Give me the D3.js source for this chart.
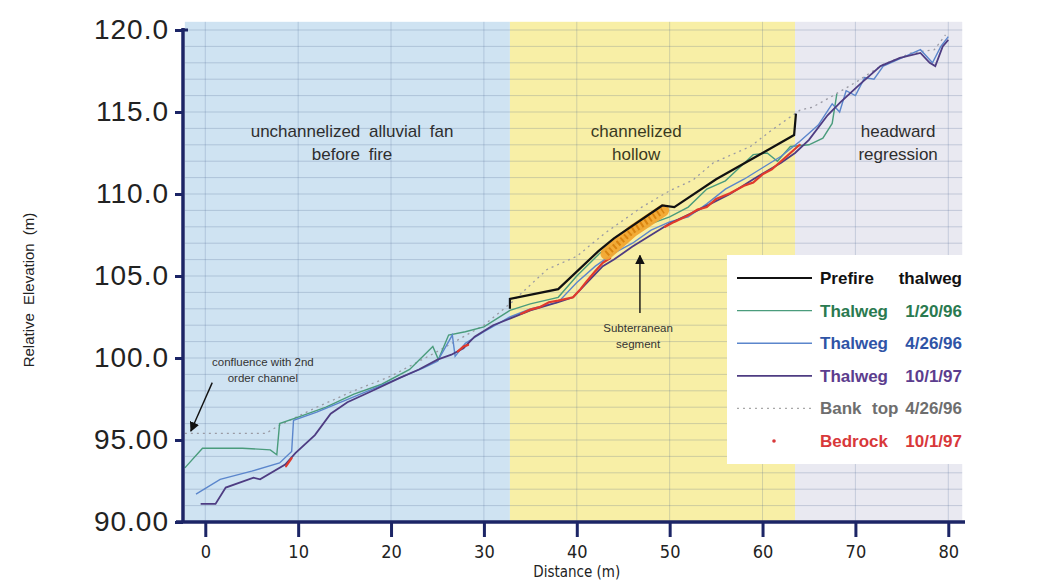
<!DOCTYPE html>
<html><head><meta charset="utf-8">
<script src="https://cdn.jsdelivr.net/npm/d3@7/dist/d3.min.js"></script>
<style>body{margin:0;background:#fff;} svg{display:block;}</style>
</head><body>
<svg id="c" width="1045" height="582"></svg>
<script>
// ---------- data ----------
const xTicks = [0,10,20,30,40,50,60,70,80];
const yTicks = [90,95,100,105,110,115,120];
const regions = [
  {name:"fan", x0:-2.2, x1:32.8, fill:"#cfe3f2"},
  {name:"hollow", x0:32.8, x1:63.5, fill:"#f8efa6"},
  {name:"headward", x0:63.5, x1:81.5, fill:"#e9e9f1"}
];
const prefire = [[32.8,103.0],[32.8,103.6],[38,104.2],[42.3,106.5],[44,107.3],[49.2,109.3],[50.5,109.2],[55,110.9],[60,112.5],[63.4,113.6],[63.6,114.9]];
const thalweg012096 = [[-2.2,93.3],[-0.3,94.5],[4,94.5],[7.0,94.4],[7.7,94.1],[8.0,96.0],[10,96.4],[13,97.0],[16,97.8],[19,98.4],[22,99.3],[24.5,100.7],[25.1,99.9],[26.2,101.4],[28,101.6],[30,101.9],[32.8,102.9],[35,103.3],[38,103.7],[40,105.0],[42.5,106.4],[44,106.9],[46,107.6],[48,108.2],[50,108.6],[52,109.2],[54,110.3],[56,110.8],[57.5,111.6],[59,112.4],[60.5,112.5],[61.6,112.0],[63,112.9],[65,113.0],[66.5,113.4],[67.5,114.3],[68.0,116.1]];
const thalweg042696 = [[-1.0,91.7],[1.6,92.6],[5,93.1],[8,93.6],[9.3,94.3],[9.5,96.2],[12,96.7],[15,97.4],[18,98.1],[21,98.8],[23.5,99.4],[25,99.8],[26.6,101.4],[26.9,100.1],[28,100.9],[30,101.6],[32.8,102.5],[35,103.0],[38,103.4],[40,104.6],[42,105.6],[44,106.4],[46,107.0],[48,107.8],[50,108.3],[52,108.6],[54,109.4],[56,110.3],[58,110.9],[60,111.6],[62,112.3],[64,113.2],[66,114.2],[67.5,115.5],[68.3,115.0],[69,116.3],[70,116.0],[71,117.1],[72,117.0],[73,117.8],[75,118.3],[77,118.8],[78.3,118.0],[79.2,119.0],[80,119.6]];
const thalweg100197 = [[-0.5,91.1],[1.1,91.1],[2.2,92.1],[5.2,92.7],[5.9,92.6],[8.6,93.5],[9.7,94.2],[11.8,95.3],[13.5,96.6],[15.3,97.3],[18,98.0],[21,98.8],[23,99.3],[25,99.9],[26.5,100.2],[27.8,100.6],[29,101.3],[31,102.0],[32.8,102.4],[35,102.9],[38,103.4],[39.6,103.7],[41.1,104.6],[42.8,105.6],[44,106.0],[46,106.8],[48,107.5],[50,108.2],[53,109.0],[56.5,110.0],[59,110.9],[62,111.9],[63.5,112.5],[65,113.3],[67,114.8],[68.4,115.6],[70.5,116.7],[72.7,117.8],[74.8,118.3],[77,118.6],[78,118.0],[78.6,117.8],[79.4,119.0],[80,119.4]];
const bankTop042696 = [[-2.2,95.4],[6.5,95.4],[8,95.9],[12,97.0],[16,98.0],[20,98.9],[25,100.4],[30,102.0],[33,103.4],[36.8,105.4],[40,106.2],[43,107.6],[47,109.2],[50,110.2],[52.5,110.85],[54.7,111.9],[58.7,112.9],[61,113.9],[64,115.1],[65.4,115.3],[67.3,115.9],[70,116.8],[73,117.9],[76,118.6],[78.5,118.8],[79.7,119.7]];
const bedrock100197 = [
  [[8.7,93.4],[9.3,93.9]],
  [[27.2,100.4],[27.8,100.7],[28.3,100.8]],
  [[34,102.7],[35,102.95],[36,103.1],[37,103.4],[38,103.5],[39.6,103.7],[40.4,104.2],[41.1,104.7],[42,105.3],[42.8,105.8],[43.6,106.1]],
  [[49.5,108.0],[50.5,108.3],[52,108.7],[53,109.05],[54,109.2],[55,109.7],[56.5,110.05],[58,110.5],[59,110.7],[60,111.2],[61,111.5],[61.9,111.95],[63,112.5],[64,113.0]]
];
const subterranean = [[43.2,106.35],[46,107.75],[49.3,109.0]];
const regionLabels = [
  {lines:["unchannelized alluvial fan","before fire"], x:15.8, y:[113.48,112.07], color:"#2e2e2e"},
  {lines:["channelized","hollow"], x:46.4, y:[113.48,112.07], color:"#3a3a1e"},
  {lines:["headward","regression"], x:74.6, y:[113.48,112.07], color:"#2e2e2e"}
];
const notes = [
  {lines:["Subterranean","segment"], x:46.6, y:[101.6,100.6], arrow:[[46.8,102.74],[46.8,106.25]]},
  {lines:["confluence with 2nd","order channel"], x:6.2, y:[99.5,98.54], arrow:[[0.75,98.5],[-1.55,95.55]]}
];
const legendItems = [
  {a:"Prefire", b:"", c:"thalweg", color:"#111", line:"#111", w:2.2, type:"line"},
  {a:"Thalweg", b:"", c:"1/20/96", color:"#2a7a50", line:"#4a9c7c", w:1.4, type:"line"},
  {a:"Thalweg", b:"", c:"4/26/96", color:"#2f54a6", line:"#5b86cc", w:1.4, type:"line"},
  {a:"Thalweg", b:"", c:"10/1/97", color:"#5c3d8e", line:"#4e3c82", w:1.8, type:"line"},
  {a:"Bank", b:"top", c:"4/26/96", color:"#6e6e6e", line:"#a8a8a8", w:1.2, type:"dash"},
  {a:"Bedrock", b:"", c:"10/1/97", color:"#d8383a", line:"#d8383a", w:0, type:"dot"}
];

// ---------- chart ----------
const svg = d3.select("#c");
const x = d3.scaleLinear().domain([-2.4, 81.8]).range([183, 965]);
const y = d3.scaleLinear().domain([90, 120]).range([522, 30]);
const line = d3.line().x(d=>x(d[0])).y(d=>y(d[1]));

// backgrounds
svg.selectAll("rect.reg").data(regions).join("rect")
  .attr("x", d=>x(d.x0)).attr("width", d=>x(d.x1)-x(d.x0))
  .attr("y", y(120.5)).attr("height", y(90)-y(120.5))
  .attr("fill", d=>d.fill);

// grid
const gGrid = svg.append("g");
d3.range(90, 121, 1).forEach(v=>{
  gGrid.append("line").attr("x1", x(-2.2)).attr("x2", x(81.5))
    .attr("y1", y(v)).attr("y2", y(v))
    .attr("stroke", "rgba(70,95,140,0.24)").attr("stroke-width", 1);
});
xTicks.forEach(v=>{
  gGrid.append("line").attr("x1", x(v)).attr("x2", x(v))
    .attr("y1", y(120.5)).attr("y2", y(90))
    .attr("stroke", "rgba(70,95,140,0.22)").attr("stroke-width", 1);
});

// series
svg.append("path").datum(bankTop042696).attr("d", line).attr("fill","none")
  .attr("stroke","#9a9aa4").attr("stroke-width",1.3).attr("stroke-dasharray","2,4");
svg.append("path").datum(thalweg012096).attr("d", line).attr("fill","none")
  .attr("stroke","#4a9c7c").attr("stroke-width",1.4);
svg.append("path").datum(thalweg042696).attr("d", line).attr("fill","none")
  .attr("stroke","#5b86cc").attr("stroke-width",1.4);
svg.append("path").datum(thalweg100197).attr("d", line).attr("fill","none")
  .attr("stroke","#4e3c82").attr("stroke-width",1.8);
bedrock100197.forEach(run=>{
  svg.append("path").datum(run).attr("d", line).attr("fill","none")
    .attr("stroke","#e03a2c").attr("stroke-width",2.2).attr("stroke-linecap","round");
});
svg.append("path").datum(subterranean).attr("d", line).attr("fill","none")
  .attr("stroke","#f2a630").attr("stroke-width",12).attr("stroke-linecap","round").attr("opacity",0.95);
svg.append("path").datum(subterranean).attr("d", line).attr("fill","none")
  .attr("stroke","#d98410").attr("stroke-width",6).attr("stroke-dasharray","2,3");
svg.append("path").datum(prefire).attr("d", line).attr("fill","none")
  .attr("stroke","#111").attr("stroke-width",2.2);

// region labels
regionLabels.forEach(r=>{
  r.lines.forEach((t,i)=>{
    svg.append("text").attr("x", x(r.x)).attr("y", y(r.y[i]))
      .attr("text-anchor","middle").attr("font-family","Liberation Sans, Arial, sans-serif")
      .attr("font-size",17).attr("word-spacing","4px").attr("fill", r.color).text(t);
  });
});

// notes with arrows
svg.append("defs").append("marker").attr("id","ah").attr("viewBox","0 0 10 10")
  .attr("refX",9).attr("refY",5).attr("markerWidth",7).attr("markerHeight",9)
  .attr("orient","auto").append("path").attr("d","M0,0 L10,5 L0,10 z").attr("fill","#111");
notes.forEach(n=>{
  n.lines.forEach((t,i)=>{
    svg.append("text").attr("x", x(n.x)).attr("y", y(n.y[i]))
      .attr("text-anchor","middle").attr("font-family","Liberation Sans, Arial, sans-serif")
      .attr("font-size",11.5).attr("fill","#333").text(t);
  });
  svg.append("line").attr("x1", x(n.arrow[0][0])).attr("y1", y(n.arrow[0][1]))
    .attr("x2", x(n.arrow[1][0])).attr("y2", y(n.arrow[1][1]))
    .attr("stroke","#111").attr("stroke-width",1.4).attr("marker-end","url(#ah)");
});

// legend
const lg = svg.append("g");
lg.append("rect").attr("x",727).attr("y",255).attr("width",239).attr("height",209).attr("fill","#fff");
legendItems.forEach((d,i)=>{
  const cy = 278 + i*32.6;
  if (d.type==="line") {
    lg.append("line").attr("x1",737).attr("x2",812).attr("y1",cy).attr("y2",cy)
      .attr("stroke",d.line).attr("stroke-width",d.w);
  } else if (d.type==="dash") {
    lg.append("line").attr("x1",737).attr("x2",812).attr("y1",cy).attr("y2",cy)
      .attr("stroke",d.line).attr("stroke-width",d.w).attr("stroke-dasharray","2,4");
  } else {
    lg.append("circle").attr("cx",774).attr("cy",cy).attr("r",1.8).attr("fill",d.line);
  }
  const f = "Liberation Sans, Arial, sans-serif";
  lg.append("text").attr("x",820).attr("y",cy+6).attr("font-family",f).attr("font-size",17)
    .attr("font-weight","bold").attr("fill",d.color).text(d.a);
  if (d.b) lg.append("text").attr("x",872).attr("y",cy+6).attr("font-family",f).attr("font-size",17)
    .attr("font-weight","bold").attr("fill",d.color).text(d.b);
  lg.append("text").attr("x",962).attr("y",cy+6).attr("text-anchor","end").attr("font-family",f)
    .attr("font-size",17).attr("font-weight","bold").attr("fill",d.color).text(d.c);
});

// axes
const axisColor = "#1c2566";
const gx = svg.append("g").attr("transform",`translate(0,${y(90)})`)
  .call(d3.axisBottom(x).tickValues(xTicks).tickSize(15).tickPadding(8).tickFormat(d3.format("d")));
gx.select(".domain").remove();
gx.append("line").attr("x1",176).attr("x2",965).attr("y1",0).attr("y2",0)
  .attr("stroke",axisColor).attr("stroke-width",3.5);
gx.selectAll(".tick line").attr("stroke",axisColor).attr("stroke-width",3);
gx.selectAll(".tick text").attr("fill","#222").attr("font-family","DejaVu Sans Condensed, DejaVu Sans, sans-serif")
  .attr("font-size",18);

const gy = svg.append("g").attr("transform",`translate(${x(-2.4)},0)`)
  .call(d3.axisLeft(y).tickValues(yTicks).tickSize(8).tickPadding(6).tickFormat(d3.format(".4r")));
gy.select(".domain").remove();
gy.append("line").attr("x1",0).attr("x2",0).attr("y1",y(120)-2).attr("y2",y(90))
  .attr("stroke",axisColor).attr("stroke-width",3.5);
gy.append("line").attr("x1",0).attr("x2",5).attr("y1",y(120)).attr("y2",y(120))
  .attr("stroke",axisColor).attr("stroke-width",3);
gy.selectAll(".tick line").attr("stroke",axisColor).attr("stroke-width",3);
gy.selectAll(".tick text").attr("fill","#222").attr("font-family","Liberation Sans, Arial, sans-serif")
  .attr("font-size",28).attr("letter-spacing","1px");

svg.append("text").attr("x", x(40)).attr("y", 577).attr("text-anchor","middle")
  .attr("font-family","DejaVu Sans Condensed, DejaVu Sans, sans-serif").attr("font-size",15).attr("fill","#222")
  .text("Distance (m)");
svg.append("text").attr("transform","translate(34,290) rotate(-90)").attr("text-anchor","middle")
  .attr("font-family","Liberation Sans, Arial, sans-serif").attr("font-size",15).attr("fill","#222")
  .attr("word-spacing","4px")
  .text("Relative Elevation (m)");
</script>
</body></html>
